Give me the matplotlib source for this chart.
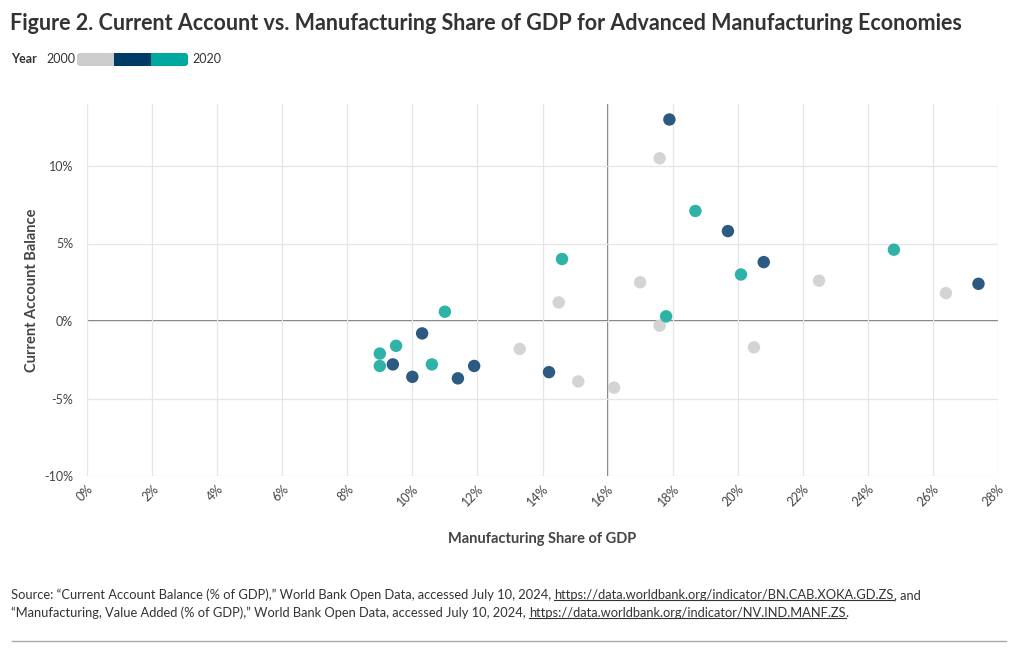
import matplotlib
matplotlib.use("Agg")
import matplotlib.pyplot as plt
from matplotlib.lines import Line2D
from matplotlib.patches import FancyBboxPatch, Rectangle
from matplotlib.ticker import FuncFormatter, MultipleLocator
from matplotlib.transforms import IdentityTransform

plt.rcParams["font.family"] = ["Lato", "DejaVu Sans"]

# manufacturing share of GDP (%) and current account balance (% of GDP)
manuf_2000 = [17.6, 17.0, 22.5, 26.4, 14.5, 17.6, 20.5, 13.3, 15.1, 16.2]
cab_2000 = [10.5, 2.5, 2.6, 1.8, 1.2, -0.3, -1.7, -1.8, -3.9, -4.3]

manuf_2010 = [17.9, 19.7, 20.8, 27.4, 10.3, 9.4, 10.0, 11.4, 11.9, 14.2]
cab_2010 = [13.0, 5.8, 3.8, 2.4, -0.8, -2.8, -3.6, -3.7, -2.9, -3.3]

manuf_2020 = [18.7, 20.1, 24.8, 17.8, 14.6, 11.0, 9.0, 9.5, 9.0, 10.6]
cab_2020 = [7.1, 3.0, 4.6, 0.3, 4.0, 0.6, -2.1, -1.6, -2.9, -2.8]

years = ["2000", "2010", "2020"]
point_colors = ["#d4d4d4", "#2c5a80", "#2fb3a8"]
legend_colors = ["#cccccc", "#003a66", "#00a99d"]

W, H = 1020, 650
fig = plt.figure(figsize=(W / 100, H / 100), dpi=100)
ax = fig.add_axes([87 / W, 1 - 476 / H, (998 - 87) / W, (476 - 104) / H])

series = [(manuf_2000, cab_2000), (manuf_2010, cab_2010), (manuf_2020, cab_2020)]
for (xs, ys), col, yr in zip(series, point_colors, years):
    ax.scatter(xs, ys, s=80, color=col, edgecolor="none", zorder=3, label=yr)

ax.set_xlim(0, 28)
ax.set_ylim(-10, 14)
ax.xaxis.set_major_locator(MultipleLocator(2))
ax.yaxis.set_major_locator(MultipleLocator(5))
ax.xaxis.set_major_formatter(FuncFormatter(lambda v, p: f"{v:.0f}%"))
ax.yaxis.set_major_formatter(FuncFormatter(lambda v, p: f"{v:.0f}%"))
ax.grid(True, color="#e6e6e6", linewidth=0.9, zorder=0)
ax.axhline(0, color="#555555", linewidth=1.1, zorder=1)
ax.axvline(16, color="#555555", linewidth=1.1, zorder=1)
for sp in ax.spines.values():
    sp.set_visible(False)
ax.tick_params(length=0, labelsize=9, labelcolor="#444444")
ax.tick_params(axis="y", pad=10)
ax.tick_params(axis="x", pad=5)
for lbl in ax.get_xticklabels():
    lbl.set_rotation(45)
    lbl.set_ha("right")
    lbl.set_rotation_mode("anchor")

ax.set_xlabel("Manufacturing Share of GDP", fontsize=10.5, fontweight="bold",
              color="#444444", labelpad=17)
ax.set_ylabel("Current Account Balance", fontsize=10.5, fontweight="bold",
              color="#444444", labelpad=4)

# title
fig.text(10 / W, 1 - 24 / H, "Figure 2. Current Account vs. Manufacturing Share of GDP for Advanced Manufacturing Economies",
         fontsize=15.5, fontweight="bold", color="#333333", va="center", ha="left")

# colour-bar style legend
fig.text(11 / W, 1 - 59 / H, "Year", fontsize=9, fontweight="bold", color="#333333", va="center")
fig.text(46 / W, 1 - 59 / H, years[0], fontsize=9, color="#333333", va="center")
fig.text(192 / W, 1 - 59 / H, years[-1], fontsize=9, color="#333333", va="center")
seg_w = (188 - 77) / 3
for i, col in enumerate(legend_colors):
    if i in (0, 2):
        fig.patches.append(FancyBboxPatch((77 + i * seg_w, H - 66), seg_w, 13,
                                          boxstyle="round,pad=0,rounding_size=3",
                                          facecolor=col, edgecolor="none",
                                          transform=IdentityTransform(), figure=fig))
    x0 = 77 + i * seg_w + (4 if i == 0 else 0)
    w = seg_w - (4 if i in (0, 2) else 0)
    fig.patches.append(Rectangle((x0, H - 66), w, 13, facecolor=col, edgecolor="none",
                                 transform=IdentityTransform(), figure=fig))

# source note with underlined links
source_lines = [
    [("Source: \u201cCurrent Account Balance (% of GDP),\u201d World Bank Open Data, accessed July 10, 2024, ", False),
     ("https://data.worldbank.org/indicator/BN.CAB.XOKA.GD.ZS", True),
     (", and", False)],
    [("\u201cManufacturing, Value Added (% of GDP),\u201d World Bank Open Data, accessed July 10, 2024, ", False),
     ("https://data.worldbank.org/indicator/NV.IND.MANF.ZS", True),
     (".", False)],
]
renderer = fig.canvas.get_renderer()
for line_y, pieces in zip([595, 613], source_lines):
    x = 11
    for txt, link in pieces:
        t = fig.text(x, H - line_y, txt, fontsize=9.3, color="#333333", va="center",
                     ha="left", transform=IdentityTransform())
        bb = t.get_window_extent(renderer)
        if link:
            fig.lines.append(Line2D([bb.x0, bb.x1], [bb.y0 + 1, bb.y0 + 1], color="#333333",
                                    linewidth=0.8, transform=IdentityTransform(), figure=fig))
        x = bb.x1

fig.lines.append(Line2D([12, 1006], [H - 641, H - 641], color="#aaaaaa", linewidth=1,
                        transform=IdentityTransform(), figure=fig))

fig.savefig("out.png", dpi=100)
